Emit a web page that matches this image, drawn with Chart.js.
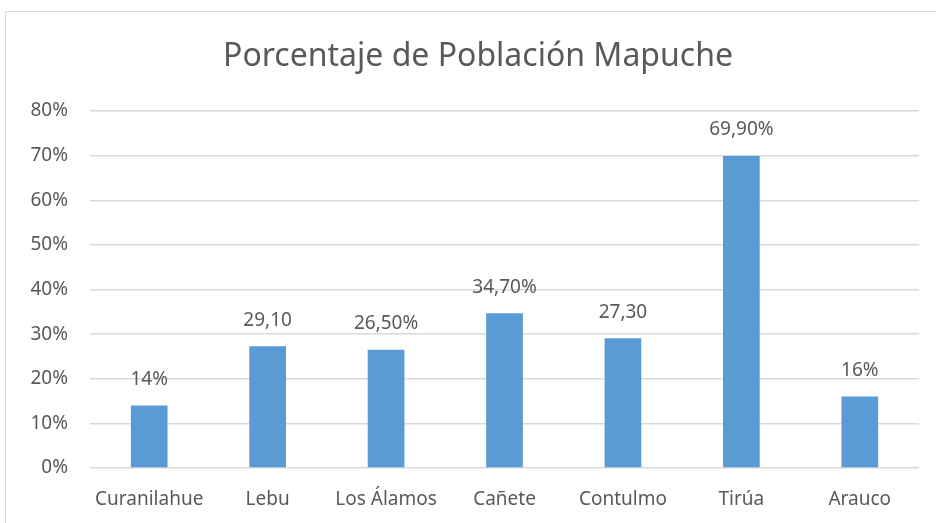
<!DOCTYPE html>
<html>
<head>
<meta charset="utf-8">
<script src="https://cdn.jsdelivr.net/npm/chart.js@4/dist/chart.umd.min.js"></script>
<style>
  body { margin: 0; background: #fff; }
  #frame { position: absolute; left: 5px; top: 11px; width: 940px; height: 530px; border: 1px solid #d9d9d9; }
  #wrap { position: absolute; left: 0; top: 0; width: 936px; height: 523px; }
</style>
</head>
<body>
<div id="frame"></div>
<div id="wrap"><canvas id="chart-mapuche"></canvas></div>
<script>
// comunas and bar heights as drawn
const comunas = ['Curanilahue', 'Lebu', 'Los Álamos', 'Cañete', 'Contulmo', 'Tirúa', 'Arauco'];
const porcentajes = [14, 27.3, 26.5, 34.7, 29.1, 69.9, 16];
// labels as printed above bars (note: Lebu / Contulmo labels are swapped in source)
const etiquetas = ['14%', '29,10', '26,50%', '34,70%', '27,30', '69,90%', '16%'];
const titulo = 'Porcentaje de Población Mapuche';

const FONT = "'Noto Sans', sans-serif";
const GRIS = '#595959';

const barLabels = {
  id: 'barLabels',
  afterDatasetsDraw(chart) {
    const ctx = chart.ctx;
    const meta = chart.getDatasetMeta(0);
    ctx.save();
    ctx.font = '19px ' + FONT;
    ctx.fillStyle = GRIS;
    ctx.textAlign = 'center';
    ctx.textBaseline = 'middle';
    meta.data.forEach((bar, i) => {
      ctx.fillText(etiquetas[i], bar.x, bar.y - 26);
    });
    ctx.restore();
  }
};

// the source title sits a bit right of the canvas centre (chart was wider than the crop)
const offsetTitle = {
  id: 'offsetTitle',
  afterDraw(chart) {
    const ctx = chart.ctx;
    ctx.save();
    ctx.font = '32px ' + FONT;
    ctx.fillStyle = GRIS;
    ctx.textAlign = 'center';
    ctx.textBaseline = 'middle';
    ctx.fillText(titulo, 478, 57);
    ctx.restore();
  }
};

function initialiseChart() {
  const ctx = document.getElementById('chart-mapuche');

  const data = {
    labels: comunas,
    datasets: [{
      label: 'Porcentaje',
      data: porcentajes,
      backgroundColor: '#5b9bd5',
      borderWidth: 0,
      categoryPercentage: 1,
      barPercentage: 0.31
    }]
  };

  const config = {
    type: 'bar',
    data: data,
    plugins: [barLabels, offsetTitle],
    options: {
      responsive: true,
      maintainAspectRatio: false,
      animation: false,
      layout: {
        padding: { left: 0, right: 17, top: 111, bottom: 0 }
      },
      plugins: {
        legend: { display: false },
        tooltip: { enabled: false },
        title: { display: false }
      },
      scales: {
        x: {
          grid: { display: false, drawTicks: false },
          border: { display: false },
          ticks: {
            color: GRIS,
            font: { family: FONT, size: 19 },
            padding: 20,
            maxRotation: 0
          },
          afterFit: (scale) => { scale.height = 55; }
        },
        y: {
          min: 0,
          max: 80,
          border: { display: false },
          grid: { color: '#d9d9d9', lineWidth: 1.5, drawTicks: false },
          ticks: {
            stepSize: 10,
            color: GRIS,
            font: { family: FONT, size: 19 },
            padding: 22,
            callback: (v) => v + '%'
          },
          afterFit: (scale) => { scale.width = 90; }
        }
      }
    }
  };

  new Chart(ctx, config);
}

initialiseChart();
</script>
</body>
</html>
